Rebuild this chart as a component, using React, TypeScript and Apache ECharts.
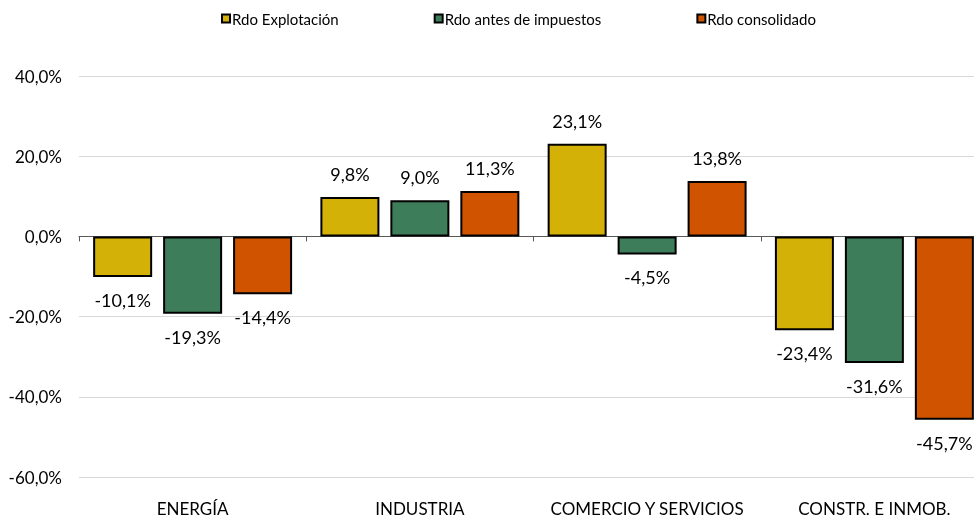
import React, { useEffect, useRef } from "react";
import * as echarts from "echarts";

const categories = ["ENERGÍA", "INDUSTRIA", "COMERCIO Y SERVICIOS", "CONSTR. E INMOB."];
const seriesNames = ["Rdo Explotación", "Rdo antes de impuestos", "Rdo consolidado"];
const rdoExplotacion = [-10.1, 9.8, 23.1, -23.4];
const rdoAntesImpuestos = [-19.3, 9.0, -4.5, -31.6];
const rdoConsolidado = [-14.4, 11.3, 13.8, -45.7];
const seriesColors = ["#D4B106", "#3E7D5A", "#D05400"];
const yMin = -60;
const yMax = 40;
const yInterval = 20;

const FONT = "Lato, 'Open Sans', sans-serif";

const fmt = (v: number) => v.toFixed(1).replace(".", ",") + "%";

export default function App() {
  const ref = useRef<HTMLDivElement>(null);
  useEffect(() => {
    if (!ref.current) return;
    const chart = echarts.init(ref.current, null, { renderer: "svg" });
    const allValues = [rdoExplotacion, rdoAntesImpuestos, rdoConsolidado];
    chart.setOption({
      animation: false,
      textStyle: { fontFamily: FONT },
      legend: {
        top: 6,
        left: 216,
        padding: 5,
        itemGap: 95,
        itemWidth: 8,
        itemHeight: 8,
        icon: "rect",
        textStyle: { fontSize: 15, color: "#000", fontFamily: FONT, padding: [0, 0, 0, -3] },
        data: seriesNames,
      },
      grid: { left: 79, top: 76, right: 0, bottom: 44, containLabel: false },
      xAxis: [
        {
          type: "category",
          data: categories,
          position: "bottom",
          axisLine: { show: false, onZero: false },
          axisTick: { show: false },
          axisLabel: { interval: 0, fontSize: 17, color: "#000", margin: 23, fontFamily: FONT },
        },
        {
          type: "category",
          data: categories,
          position: "bottom",
          axisLine: { show: true, onZero: true, lineStyle: { color: "#595959", width: 1 } },
          axisTick: { show: true, interval: 0, length: 5, lineStyle: { color: "#595959" } },
          axisLabel: { show: false },
        },
      ],
      yAxis: {
        type: "value",
        min: yMin,
        max: yMax,
        interval: yInterval,
        axisLine: { show: false },
        axisTick: { show: false },
        axisLabel: {
          fontSize: 17,
          color: "#000",
          margin: 17,
          fontFamily: FONT,
          formatter: (v: number) => fmt(v),
        },
        splitLine: { lineStyle: { color: "#D9D9D9", width: 1 } },
      },
      series: seriesNames.map((name, i) => ({
        name,
        type: "bar",
        xAxisIndex: 0,
        barWidth: 59,
        barGap: "18.6%",
        itemStyle: { color: seriesColors[i], borderColor: "#000", borderWidth: 2 },
        data: allValues[i].map((v) => ({
          value: v,
          label: { position: v >= 0 ? "top" : "bottom" },
        })),
        label: {
          show: true,
          fontSize: 18,
          color: "#000",
          distance: 14,
          fontFamily: FONT,
          formatter: (p: any) => fmt(p.value),
        },
      })),
    });
    return () => chart.dispose();
  }, []);
  return (
    <div
      ref={ref}
      style={{ position: "fixed", left: 0, top: 0, width: 988, height: 521 }}
    />
  );
}
